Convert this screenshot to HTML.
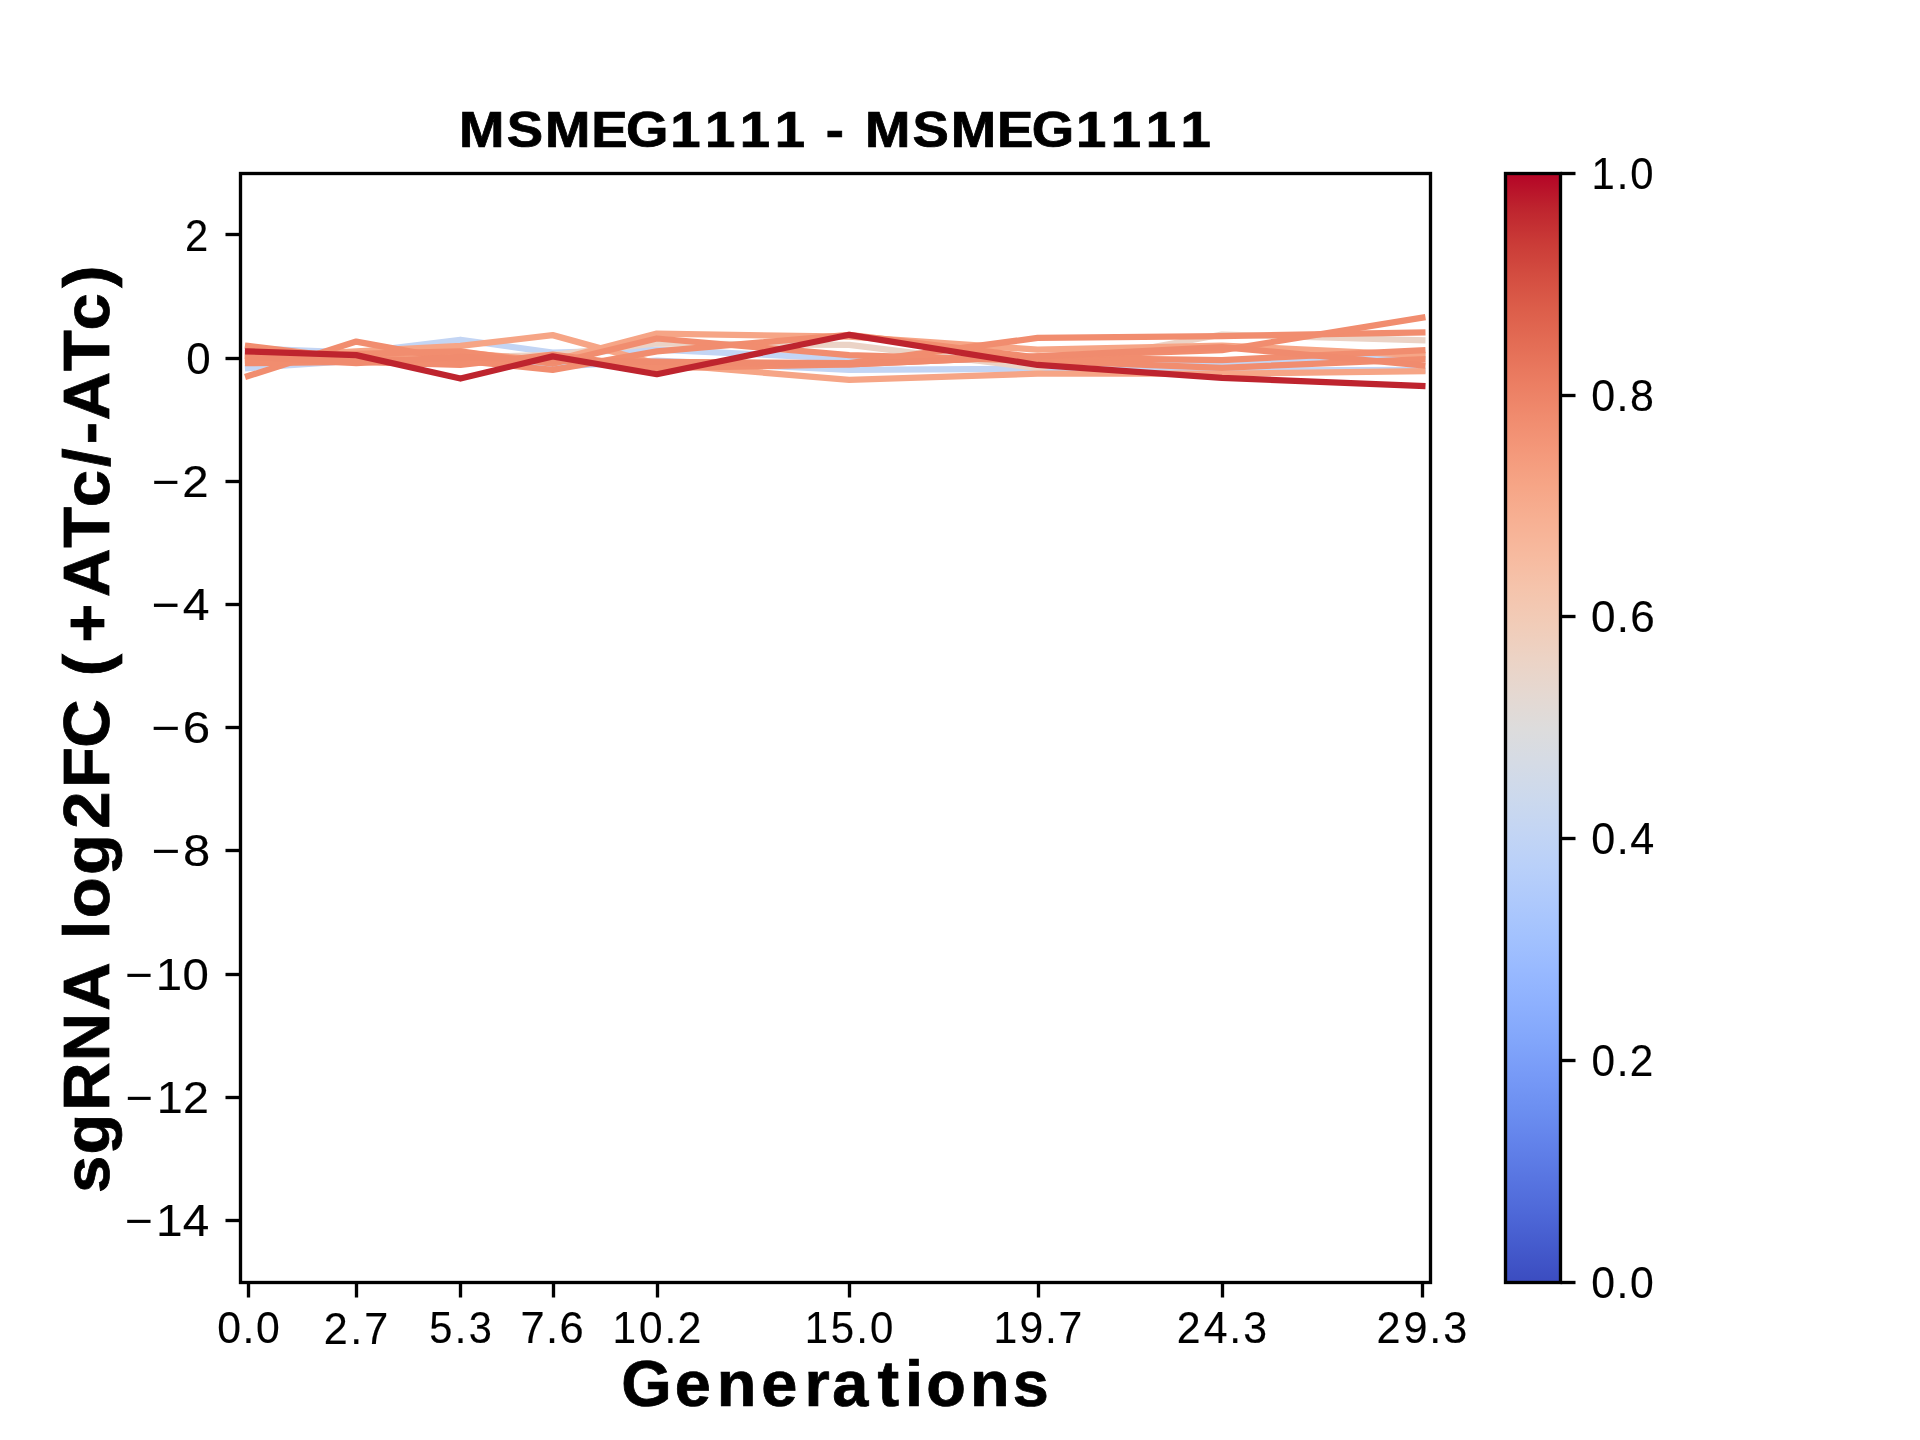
<!DOCTYPE html>
<html><head><meta charset="utf-8"><title>MSMEG1111 - MSMEG1111</title>
<style>html,body{margin:0;padding:0;background:#fff;overflow:hidden}svg{display:block;will-change:transform}text{font-family:"Liberation Sans",sans-serif;fill:#000}</style></head><body>
<svg width="1920" height="1440" viewBox="0 0 1920 1440">
<rect x="0" y="0" width="1920" height="1440" fill="#fff"/>
<defs><linearGradient id="cm" x1="0" y1="1" x2="0" y2="0"><stop offset="0.0000" stop-color="#3b4cc0"/><stop offset="0.0312" stop-color="#445acc"/><stop offset="0.0625" stop-color="#4e68d8"/><stop offset="0.0938" stop-color="#5875e1"/><stop offset="0.1250" stop-color="#6282ea"/><stop offset="0.1562" stop-color="#6c8ff1"/><stop offset="0.1875" stop-color="#779af7"/><stop offset="0.2188" stop-color="#82a6fb"/><stop offset="0.2500" stop-color="#8db0fe"/><stop offset="0.2812" stop-color="#98b9ff"/><stop offset="0.3125" stop-color="#a3c2fe"/><stop offset="0.3438" stop-color="#aec9fc"/><stop offset="0.3750" stop-color="#b9d0f9"/><stop offset="0.4062" stop-color="#c3d5f4"/><stop offset="0.4375" stop-color="#ccd9ed"/><stop offset="0.4688" stop-color="#d5dbe5"/><stop offset="0.5000" stop-color="#dddcdc"/><stop offset="0.5312" stop-color="#e5d8d1"/><stop offset="0.5625" stop-color="#ecd3c5"/><stop offset="0.5938" stop-color="#f1ccb8"/><stop offset="0.6250" stop-color="#f5c4ac"/><stop offset="0.6562" stop-color="#f7ba9f"/><stop offset="0.6875" stop-color="#f7b093"/><stop offset="0.7188" stop-color="#f6a586"/><stop offset="0.7500" stop-color="#f4987a"/><stop offset="0.7812" stop-color="#f08b6e"/><stop offset="0.8125" stop-color="#eb7d62"/><stop offset="0.8438" stop-color="#e46e56"/><stop offset="0.8750" stop-color="#dd5f4b"/><stop offset="0.9062" stop-color="#d44e41"/><stop offset="0.9375" stop-color="#ca3b37"/><stop offset="0.9688" stop-color="#be242e"/><stop offset="1.0000" stop-color="#b40426"/></linearGradient><clipPath id="clip"><rect x="240.0" y="172.8" width="1190.4" height="1108.8"/></clipPath></defs>
<g clip-path="url(#clip)" fill="none" stroke-width="6.25" stroke-linecap="square" stroke-linejoin="round">
<polyline stroke="#c3d5f4" points="248.02,348.36 356.23,352.67 460.44,339.74 552.63,352.67 656.84,349.59 849.23,358.83 1037.61,360.68 1221.98,363.76 1422.38,356.98"/>
<polyline stroke="#c3d5f4" points="248.02,368.07 356.23,360.68 460.44,357.60 552.63,366.84 656.84,360.68 849.23,369.92 1037.61,368.69 1221.98,370.54 1422.38,369.92"/>
<polyline stroke="#ebd3c6" points="248.02,360.68 356.23,360.68 460.44,357.60 552.63,354.83 656.84,343.43 849.23,344.97 1037.61,368.07 1221.98,334.50 1422.38,340.35"/>
<polyline stroke="#f6a586" points="248.02,357.60 356.23,351.44 460.44,345.90 552.63,335.12 656.84,363.76 849.23,379.78 1037.61,373.62 1221.98,373.62 1422.38,371.15"/>
<polyline stroke="#f6a586" points="248.02,360.68 356.23,358.83 460.44,352.67 552.63,360.68 656.84,333.58 849.23,336.66 1037.61,349.59 1221.98,345.59 1422.38,355.14"/>
<polyline stroke="#f18d6f" points="248.02,376.08 356.23,341.58 460.44,360.68 552.63,369.92 656.84,351.44 849.23,334.81 1037.61,357.60 1221.98,360.06 1422.38,350.21"/>
<polyline stroke="#f18d6f" points="248.02,345.90 356.23,358.83 460.44,360.68 552.63,360.68 656.84,361.91 849.23,363.14 1037.61,337.89 1221.98,336.04 1422.38,332.34"/>
<polyline stroke="#f18d6f" points="248.02,357.60 356.23,353.90 460.44,351.44 552.63,363.76 656.84,338.50 849.23,355.14 1037.61,360.68 1221.98,367.76 1422.38,359.14"/>
<polyline stroke="#f18d6f" points="248.02,363.14 356.23,361.91 460.44,364.99 552.63,354.52 656.84,368.07 849.23,364.38 1037.61,356.37 1221.98,350.21 1422.38,317.56"/>
<polyline stroke="#f08b6e" points="248.02,356.37 356.23,363.14 460.44,356.98 552.63,360.68 656.84,361.91 849.23,364.38 1037.61,356.37 1221.98,347.13 1422.38,365.30"/>
<polyline stroke="#be242e" points="248.02,351.44 356.23,355.14 460.44,378.54 552.63,356.37 656.84,374.23 849.23,334.81 1037.61,364.99 1221.98,377.93 1422.38,385.94"/>
</g>
<rect x="1505.5" y="173.5" width="55.0" height="1109.0" fill="url(#cm)"/>
<rect x="1505.5" y="173.5" width="55.0" height="1109.0" fill="none" stroke="#000" stroke-width="3.333"/>
<rect x="240.5" y="173.5" width="1190.0" height="1109.0" fill="none" stroke="#000" stroke-width="3.333" stroke-linecap="square"/>
<g fill="#000"><rect x="246.8333" y="1282.5" width="3.3333" height="15"/><rect x="354.8333" y="1282.5" width="3.3333" height="15"/><rect x="458.8333" y="1282.5" width="3.3333" height="15"/><rect x="551.8333" y="1282.5" width="3.3333" height="15"/><rect x="655.8333" y="1282.5" width="3.3333" height="15"/><rect x="847.8333" y="1282.5" width="3.3333" height="15"/><rect x="1036.8333" y="1282.5" width="3.3333" height="15"/><rect x="1220.8333" y="1282.5" width="3.3333" height="15"/><rect x="1420.8333" y="1282.5" width="3.3333" height="15"/><rect x="225.5" y="232.8333" width="15" height="3.3333"/><rect x="225.5" y="356.8333" width="15" height="3.3333"/><rect x="225.5" y="479.8333" width="15" height="3.3333"/><rect x="225.5" y="602.8333" width="15" height="3.3333"/><rect x="225.5" y="725.8333" width="15" height="3.3333"/><rect x="225.5" y="848.8333" width="15" height="3.3333"/><rect x="225.5" y="972.8333" width="15" height="3.3333"/><rect x="225.5" y="1095.8333" width="15" height="3.3333"/><rect x="225.5" y="1218.8333" width="15" height="3.3333"/><rect x="1560.5" y="1280.8333" width="15" height="3.3333"/><rect x="1560.5" y="1058.8333" width="15" height="3.3333"/><rect x="1560.5" y="836.8333" width="15" height="3.3333"/><rect x="1560.5" y="614.8333" width="15" height="3.3333"/><rect x="1560.5" y="393.8333" width="15" height="3.3333"/><rect x="1560.5" y="171.8333" width="15" height="3.3333"/></g>
<text transform="translate(219.00,1342.82) scale(0.9606,1)" x="-1.76 24.52 38.43" y="0" font-size="44.51" stroke="#000" stroke-width="0.15">0.0</text>
<text transform="translate(326.00,1343.96) scale(0.9739,1)" x="-2.36 24.89 39.19" y="0" font-size="44.29" stroke="#000" stroke-width="0.15">2.7</text>
<text transform="translate(431.00,1342.82) scale(0.9349,1)" x="-1.95 25.41 40.29" y="0" font-size="44.51" stroke="#000" stroke-width="0.15">5.3</text>
<text transform="translate(523.00,1342.82) scale(0.9751,1)" x="-2.59 23.65 37.44" y="0" font-size="44.51" stroke="#000" stroke-width="0.15">7.6</text>
<text transform="translate(616.00,1342.82) scale(0.9525,1)" x="-3.61 24.10 50.90 64.76" y="0" font-size="44.51" stroke="#000" stroke-width="0.15">10.2</text>
<text transform="translate(808.00,1342.82) scale(0.9417,1)" x="-3.54 24.18 51.29 65.86" y="0" font-size="44.51" stroke="#000" stroke-width="0.15">15.0</text>
<text transform="translate(997.00,1342.82) scale(0.9599,1)" x="-3.75 23.42 50.05 64.09" y="0" font-size="44.51" stroke="#000" stroke-width="0.15">19.7</text>
<text transform="translate(1179.00,1342.82) scale(0.9614,1)" x="-2.39 25.62 52.40 66.85" y="0" font-size="44.51" stroke="#000" stroke-width="0.15">24.3</text>
<text transform="translate(1379.00,1342.82) scale(0.9708,1)" x="-2.49 25.13 51.83 66.09" y="0" font-size="44.51" stroke="#000" stroke-width="0.15">29.3</text>
<text transform="translate(187.00,250.96) scale(0.9417,1)" x="-2.23" y="0" font-size="44.29" stroke="#000" stroke-width="0.15">2</text>
<text transform="translate(188.00,373.82) scale(0.9869,1)" x="-1.74" y="0" font-size="44.51" stroke="#000" stroke-width="0.15">0</text>
<text transform="translate(153.00,496.96) scale(1.0709,1)" x="-0.96 27.38" y="0" font-size="44.29" stroke="#000" stroke-width="0.15">−2</text>
<text transform="translate(153.00,619.69) scale(1.0900,1)" x="-1.08 27.38" y="0" font-size="44.15" stroke="#000" stroke-width="0.15">−4</text>
<text transform="translate(153.00,742.82) scale(1.1082,1)" x="-1.32 26.80" y="0" font-size="44.51" stroke="#000" stroke-width="0.15">−6</text>
<text transform="translate(153.00,865.82) scale(1.1004,1)" x="-1.19 27.26" y="0" font-size="44.51" stroke="#000" stroke-width="0.15">−8</text>
<text transform="translate(126.00,989.82) scale(1.0662,1)" x="-0.89 28.01 52.90" y="0" font-size="44.51" stroke="#000" stroke-width="0.15">−10</text>
<text transform="translate(126.50,1112.96) scale(1.0526,1)" x="-0.61 28.81 53.61" y="0" font-size="44.29" stroke="#000" stroke-width="0.15">−12</text>
<text transform="translate(126.00,1235.69) scale(1.0811,1)" x="-0.87 27.84 52.57" y="0" font-size="44.15" stroke="#000" stroke-width="0.15">−14</text>
<text transform="translate(1593.00,1297.82) scale(0.9606,1)" x="-1.76 24.52 38.43" y="0" font-size="44.51" stroke="#000" stroke-width="0.15">0.0</text>
<text transform="translate(1593.00,1075.82) scale(0.9513,1)" x="-1.59 25.01 38.68" y="0" font-size="44.51" stroke="#000" stroke-width="0.15">0.2</text>
<text transform="translate(1593.00,853.82) scale(0.9701,1)" x="-1.76 24.52 38.42" y="0" font-size="44.51" stroke="#000" stroke-width="0.15">0.4</text>
<text transform="translate(1593.00,631.82) scale(0.9898,1)" x="-1.93 24.04 37.65" y="0" font-size="44.51" stroke="#000" stroke-width="0.15">0.6</text>
<text transform="translate(1593.00,410.82) scale(0.9666,1)" x="-1.82 24.37 38.18" y="0" font-size="44.51" stroke="#000" stroke-width="0.15">0.8</text>
<text transform="translate(1595.00,188.82) scale(0.9386,1)" x="-3.67 23.23 37.53" y="0" font-size="44.51" stroke="#000" stroke-width="0.15">1.0</text>
<text transform="translate(461.50,146.73) scale(1.0896,1)" x="-2.22 41.56 76.57 119.01 151.02 191.55 223.51 255.47 287.43 301.21 334.41 348.20 370.24 414.03 449.03 491.47 523.48 564.01 595.97 627.93 659.89" y="0" font-size="50.06" font-weight="bold" stroke="#000" stroke-width="0.75">MSMEG1111 - MSMEG1111</text>
<text transform="translate(624.00,1405.66) scale(1.0015,1)" x="-2.84 50.70 92.54 137.16 180.19 207.96 253.00 280.65 301.85 345.41 388.10" y="0" font-size="64.79" font-weight="bold" stroke="#000" stroke-width="0.75">Generations</text>
<text transform="translate(108.69,1190.00) rotate(-90) scale(1.0289,1)" x="-2.85 34.51 77.02 125.16 174.11 193.09 243.61 264.01 306.27 351.19 390.60 429.88 448.86 499.31 531.83 576.37 624.13 663.61 702.81 724.74 748.19 795.95 835.43 877.03" y="0" font-size="65.11" font-weight="bold" stroke="#000" stroke-width="0.75">sgRNA log2FC (+ATc/-ATc)</text>
</svg></body></html>
